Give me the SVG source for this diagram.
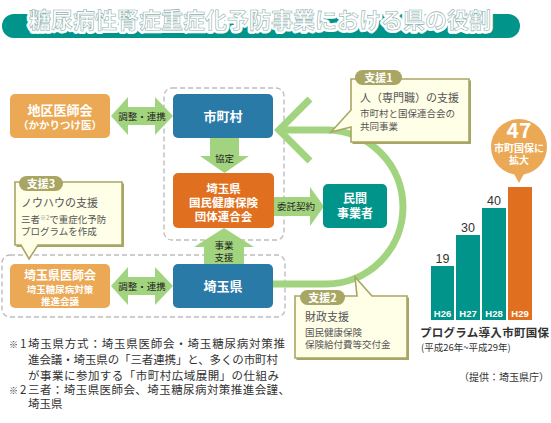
<svg xmlns="http://www.w3.org/2000/svg" width="551" height="423" viewBox="0 0 551 423">
<style>
text{font-family:"Noto Sans CJK JP","Noto Sans",sans-serif}
.bw{fill:#fff;font-weight:700;text-anchor:middle}
.lbl{fill:#222;font-size:9.5px;text-anchor:middle}
.ct{fill:#555}
.tab{fill:#fff;font-size:11px;font-weight:700;text-anchor:middle}
.note{fill:#333;font-size:11.5px}
.mark{fill:#333;font-size:9px}
.num{font-family:"Liberation Sans",Arial,sans-serif;fill:#333;font-size:12.5px;text-anchor:middle}
.yr{font-family:"Liberation Sans",Arial,sans-serif;fill:#fff;font-size:9.5px;font-weight:700;text-anchor:middle}
.dash{fill:none;stroke:#bdbdbd;stroke-width:1.4;stroke-dasharray:5 3}
.garrow{fill:#a2d47f}
.callout{fill:#fffee6;stroke:#a9a664;stroke-width:1.6}
.shadow{fill:#a9a664}
</style>

<!-- title -->
<g id="title">
<rect x="2" y="14" width="518" height="24" rx="12" fill="#00948a"/>
<text x="260" y="28" font-size="22" font-weight="700" text-anchor="middle" fill="#fff" stroke="#fff" stroke-width="6" stroke-linejoin="round">糖尿病性腎症重症化予防事業における県の役割</text>
<text x="260" y="28" font-size="22" font-weight="700" text-anchor="middle" fill="#fff" stroke="#8fb3af" stroke-width="0.6">糖尿病性腎症重症化予防事業における県の役割</text>
</g>

<!-- dashed groups -->
<rect class="dash" x="164" y="88" width="120" height="152" rx="8"/>
<rect class="dash" x="2" y="255" width="283" height="62" rx="8"/>

<!-- connectors -->
<g id="connectors">
<path class="garrow" d="M111,116 L128,97 L128,107 L155,107 L155,97 L173,116 L155,135 L155,125 L128,125 L128,135 Z"/>
<text class="lbl" x="142" y="120">調整・連携</text>
<path class="garrow" d="M111,286 L128,267 L128,277 L155,277 L155,267 L173,286 L155,305 L155,295 L128,295 L128,305 Z"/>
<text class="lbl" x="142" y="290">調整・連携</text>
<path class="garrow" d="M210,138 L239,138 L239,156 L249,156 L224.5,173 L200,156 L210,156 Z"/>
<text class="lbl" x="224.5" y="162">協定</text>
<path class="garrow" d="M204,264 L244,264 L244,247 L254,247 L224,228 L194,247 L204,247 Z"/>
<text class="lbl" x="224" y="249">事業</text>
<text class="lbl" x="224" y="261">支援</text>
<path class="garrow" d="M274,197 L310,197 L310,187 L324,206.5 L310,226 L310,216 L274,216 Z"/>
<text class="lbl" x="296" y="210">委託契約</text>
<path d="M273,284 L326,284 A77,77 0 0 0 326,130 L280,130" fill="none" stroke="#a2d47f" stroke-width="7"/>
<polyline points="310,99 279,130 310,161" fill="none" stroke="#a2d47f" stroke-width="7" stroke-linejoin="miter"/>
</g>

<!-- nodes -->
<g id="chiku-ishikai">
<rect x="10" y="94" width="100" height="44" rx="5" fill="#eba955"/>
<text class="bw" x="60" y="114.5" font-size="13">地区医師会</text>
<text class="bw" x="60" y="128.5" font-size="10.5">（かかりつけ医）</text>
</g>
<g id="shichoson">
<rect x="173" y="94" width="100" height="44" rx="5" fill="#2a7aa8"/>
<text class="bw" x="223" y="121" font-size="13">市町村</text>
</g>
<g id="kokuhoren">
<rect x="173" y="173" width="101" height="55" rx="5" fill="#e0701f"/>
<text class="bw" x="223.5" y="192.5" font-size="11.5">埼玉県</text>
<text class="bw" x="223.5" y="206.5" font-size="11.5">国民健康保険</text>
<text class="bw" x="223.5" y="220.5" font-size="11.5">団体連合会</text>
</g>
<g id="minkan">
<rect x="323" y="184" width="64" height="44" rx="5" fill="#00948a"/>
<text class="bw" x="355" y="202.5" font-size="12">民間</text>
<text class="bw" x="355" y="217.5" font-size="12">事業者</text>
</g>
<g id="saitama-ishikai">
<rect x="10" y="264" width="100" height="44" rx="5" fill="#eba955"/>
<text class="bw" x="60" y="279.5" font-size="12">埼玉県医師会</text>
<text class="bw" x="60" y="292.5" font-size="9.5">埼玉糖尿病対策</text>
<text class="bw" x="60" y="304.5" font-size="9.5">推進会議</text>
</g>
<g id="saitama-ken">
<rect x="173" y="264" width="100" height="44" rx="5" fill="#2a7aa8"/>
<text class="bw" x="223" y="291" font-size="13">埼玉県</text>
</g>

<!-- callouts -->
<g id="shien1">
<path class="shadow" d="M352.5,80.5 H471 V144 H352.5 Z"/>
<path class="callout" d="M351,79 H469 V142 H351 V127 L331,132 L351,110 Z"/>
<rect x="355" y="70" width="47" height="15" rx="7.5" fill="#a9a664"/>
<text class="tab" x="378.5" y="81.5">支援1</text>
<text class="ct" x="360" y="102" font-size="11">人（専門職）の支援</text>
<text class="ct" x="360" y="117" font-size="9.5">市町村と国保連合会の</text>
<text class="ct" x="360" y="130" font-size="9.5">共同事業</text>
</g>
<g id="shien3">
<path class="shadow" d="M16.5,183.5 H124 V247 H16.5 Z"/>
<path class="callout" d="M15,182 H122 V245 H38 L29,259 L21,245 H15 Z"/>
<rect x="19" y="176" width="44" height="15" rx="7.5" fill="#a9a664"/>
<text class="tab" x="41" y="187.5">支援3</text>
<text class="ct" x="21" y="207" font-size="11">ノウハウの支援</text>
<text class="ct" x="21" y="223" font-size="9.5">三者<tspan font-size="6" fill="#999" dy="-3.5">※2</tspan><tspan dy="3.5">で重症化予防</tspan></text>
<text class="ct" x="21" y="235" font-size="9.5">プログラムを作成</text>
</g>
<g id="shien2">
<path class="shadow" d="M296.5,297.5 H409 V360 H296.5 Z"/>
<path class="callout" d="M295,296 H357 L355,277 L372,296 H407 V358 H295 Z"/>
<rect x="300" y="290" width="45" height="15" rx="7.5" fill="#a9a664"/>
<text class="tab" x="322.5" y="301.5">支援2</text>
<text class="ct" x="305" y="321" font-size="11">財政支援</text>
<text class="ct" x="305" y="336" font-size="9.5">国民健康保険</text>
<text class="ct" x="305" y="348" font-size="9.5">保険給付費等交付金</text>
</g>

<!-- bar chart -->
<g id="chart">
<rect x="431" y="266" width="23" height="54" fill="#00948a"/>
<rect x="456" y="235" width="24" height="85" fill="#00948a"/>
<rect x="482" y="208" width="24" height="112" fill="#00948a"/>
<rect x="508" y="187" width="24" height="133" fill="#e0701f"/>
<text class="num" x="442.5" y="262.5">19</text>
<text class="num" x="468" y="231.5">30</text>
<text class="num" x="494" y="204.5">40</text>
<text class="yr" x="442.5" y="316.5">H26</text>
<text class="yr" x="468" y="316.5">H27</text>
<text class="yr" x="494" y="316.5">H28</text>
<text class="yr" x="520" y="316.5">H29</text>
<circle cx="519" cy="147" r="28" fill="#eba955"/>
<path d="M513,172 L519,183 L525,172 Z" fill="#eba955"/>
<text x="519" y="138" font-family="Liberation Sans,Arial,sans-serif" font-size="21" font-weight="700" fill="#fff" text-anchor="middle">47</text>
<text class="bw" x="519" y="151.5" font-size="10">市町国保に</text>
<text class="bw" x="519" y="164" font-size="10">拡大</text>
<text x="420" y="337" font-size="11.5" font-weight="700" fill="#333" textLength="129">プログラム導入市町国保</text>
<text x="421" y="351" font-size="9.5" fill="#333">(平成26年~平成29年)</text>
<text x="549" y="381" font-size="10" fill="#333" text-anchor="end">（提供：埼玉県庁）</text>
</g>

<!-- notes -->
<g id="notes">
<text class="mark" x="9" y="348">※</text>
<text class="note" x="20" y="348">1</text>
<text class="note" x="28" y="348" textLength="257">埼玉県方式：埼玉県医師会・埼玉糖尿病対策推</text>
<text class="note" x="28" y="364" textLength="250">進会議・埼玉県の「三者連携」と、多くの市町村</text>
<text class="note" x="28" y="380" textLength="251">が事業に参加する「市町村広域展開」の仕組み</text>
<text class="mark" x="9" y="394">※</text>
<text class="note" x="20" y="394">2</text>
<text class="note" x="28" y="394" textLength="262">三者：埼玉県医師会、埼玉糖尿病対策推進会謹、</text>
<text class="note" x="28" y="408">埼玉県</text>
</g>
</svg>
